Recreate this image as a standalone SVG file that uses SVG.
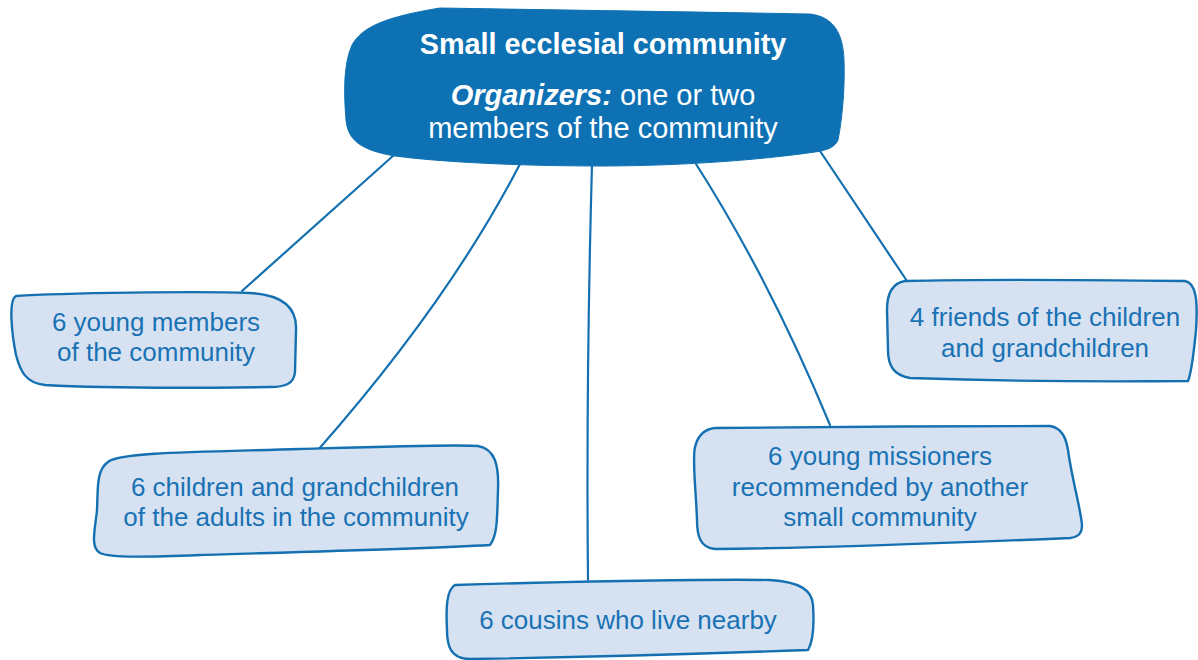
<svg xmlns="http://www.w3.org/2000/svg" width="1198" height="660" viewBox="0 0 1198 660">
<style>
.box{fill:#d6e2f2;stroke:#1470b0;stroke-width:2.4;stroke-linejoin:round}
.main{fill:#0e71b3;stroke:#0e71b3;stroke-width:1}
.lbl{font-family:"Liberation Sans",Arial,sans-serif;font-size:26px;fill:#1a72b4;text-anchor:middle}
.ttl{font-family:"Liberation Sans",Arial,sans-serif;fill:#ffffff;text-anchor:middle}
.con{fill:none;stroke:#1470b0;stroke-width:2.2;stroke-linecap:round}
</style>
<rect width="1198" height="660" fill="#ffffff"/>
<g id="connectors">
<path class="con" d="M 394,155 L 242,291"/>
<path class="con" d="M 521,162 Q 450,300 318,450"/>
<path class="con" d="M 592,164 Q 586,380 588,580"/>
<path class="con" d="M 696,164 Q 770,280 830,425"/>
<path class="con" d="M 818,148 L 907,281"/>
</g>
<g id="center">
<path class="main" d="M 440,8 C 560,10 700,12 810,14 C 835,17 843,35 844,60 C 845,90 842,120 838,140 C 835,147 828,150 815,152 C 760,160 680,166 600,166 C 520,166 440,162 395,156 C 360,150 348,140 346,120 C 344,95 343,65 352,45 C 362,27 385,17 440,8 Z"/>
<text class="ttl" x="603" y="54" font-size="28.8" font-weight="bold">Small ecclesial community</text>
<text class="ttl" x="603" y="105" font-size="29"><tspan font-weight="bold" font-style="italic">Organizers:</tspan> one or two</text>
<text class="ttl" x="603" y="138" font-size="29">members of the community</text>
</g>
<g id="n1">
<path class="box" d="M 16,296 C 60,293 200,291 250,293 C 285,295 297,310 296,330 L 295,372 C 294,384 285,387 270,387 C 200,388 100,388 45,385 C 25,383 20,370 16,355 C 12,335 8,300 16,296 Z"/>
<text class="lbl" x="156" y="331">6 young members</text>
<text class="lbl" x="156" y="361">of the community</text>
</g>
<g id="n2">
<path class="box" d="M 108,462 C 120,452 200,452 300,449 C 400,446 460,444 478,446 C 495,449 499,465 498,490 C 497,515 498,535 490,545 C 420,549 300,552 200,555 C 150,557 110,558 100,553 C 90,547 95,530 97,510 C 98,490 96,470 108,462 Z"/>
<text class="lbl" x="295" y="496">6 children and grandchildren</text>
<text class="lbl" x="296" y="526">of the adults in the community</text>
</g>
<g id="n3">
<path class="box" d="M 455,585 C 550,582 700,579 770,580 C 800,582 812,590 813,605 C 814,620 814,640 808,650 C 700,654 600,657 470,659 C 450,659 447,645 447,630 C 446,610 446,590 455,585 Z"/>
<text class="lbl" x="628" y="629">6 cousins who live nearby</text>
</g>
<g id="n4">
<path class="box" d="M 715,428 C 800,427 950,426 1050,426 C 1062,428 1066,438 1068,450 C 1072,480 1080,505 1082,525 C 1082,534 1078,537 1070,538 C 950,543 820,548 715,549 C 700,548 697,535 697,520 C 696,490 692,460 695,447 C 698,435 704,429 715,428 Z"/>
<text class="lbl" x="880" y="465">6 young missioners</text>
<text class="lbl" x="880" y="496">recommended by another</text>
<text class="lbl" x="880" y="526">small community</text>
</g>
<g id="n5">
<path class="box" d="M 905,281 C 980,279 1100,280 1185,281 C 1196,283 1198,300 1196,330 C 1194,350 1192,372 1188,381 C 1100,382 1000,381 910,378 C 893,375 888,365 888,350 L 887,310 C 887,292 893,283 905,281 Z"/>
<text class="lbl" x="1045" y="326">4 friends of the children</text>
<text class="lbl" x="1045" y="357">and grandchildren</text>
</g>
</svg>
